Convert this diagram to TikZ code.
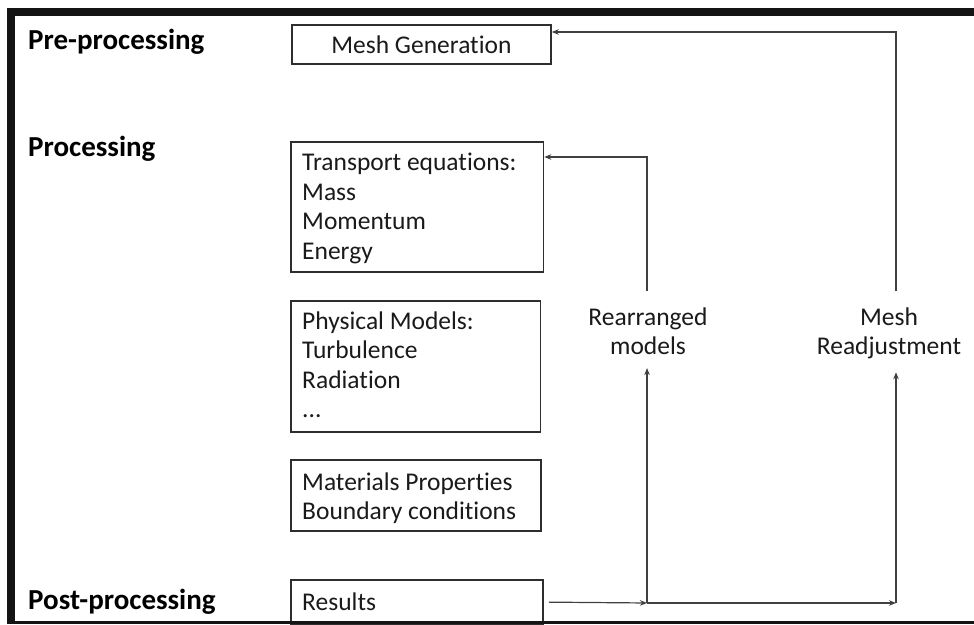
\documentclass[tikz,border=0pt]{standalone}
\usepackage{fontspec}
\setmainfont{Carlito}[RawFeature={-liga;-clig}]
\usetikzlibrary{arrows.meta,calc}
\definecolor{frame}{HTML}{141414}
\definecolor{boxline}{HTML}{2E2E2E}
\definecolor{conn}{HTML}{404040}
\definecolor{ink}{HTML}{1A1A1A}
\tikzset{
  box/.style={draw=boxline, line width=1.8pt, rectangle, inner sep=0pt, anchor=south west},
  boxfont/.style={font=\fontsize{25.5}{29.5}\selectfont, text=ink},
  boxtext/.style={boxfont, inner sep=0pt, align=left, anchor=north west},
  sidetext/.style={boxfont, inner xsep=0pt, inner ysep=13pt, align=center, anchor=north},
  stage/.style={font=\fontsize{29}{33}\selectfont\bfseries, text=black, inner sep=0pt, anchor=base west},
  arr/.style={draw=conn, line width=1.2pt, -{Stealth[length=7pt,width=5.5pt]}},
}
\begin{document}
\begin{tikzpicture}[x=1pt,y=1pt]
\useasboundingbox (0,0) rectangle (974,624);
\fill[white] (0,0) rectangle (974,624);

% boxes
\node[box, minimum width=259pt, minimum height=39pt] (mg) at (291,559) {};
\node[boxfont, inner sep=0pt] (mgt) at (mg.center) {Mesh Generation};
\node[box, minimum width=252.5pt, minimum height=130.3pt] (tr) at (290,351) {};
\node[boxtext] (trt) at (302,473.95) {\strut Transport equations:\\Mass\\Momentum\\Energy};
\node[box, minimum width=249.5pt, minimum height=131pt] (pm) at (290,191.3) {};
\node[boxtext] (pmt) at (302,315.65) {\strut Physical Models:\\Turbulence\\Radiation\\...};
\node[box, minimum width=250pt, minimum height=71pt] (mat) at (290,92.3) {};
\node[boxtext] (matt) at (302,154.65) {\strut Materials Properties\\Boundary conditions};
\node[box, minimum width=252pt, minimum height=44pt] (res) at (290,-1) {};
\node[boxfont, inner sep=0pt, anchor=base west] (rest) at (302,14) {Results};

% stage labels
\node[stage] (pre) at (28,574) {Pre-processing};
\node[stage] (proc) at (28,467.3) {Processing};
\node[stage] (post) at (28,15) {Post-processing};

% side texts
\node[sidetext] (rm) at (648,332.65) {\strut Rearranged\\models};
\node[sidetext] (mr) at (889,332.65) {\strut Mesh\\Readjustment};

% connectors
\coordinate (j1) at (647,21);
\coordinate (j2) at (896,21);
\coordinate (c1) at (647,467);
\coordinate (c2) at (896,592);
\draw[arr, shorten <=5pt] (res.east) -- (j1);
\draw[arr] (j1) -- (j2);
\draw[arr] (j1) -- (j1 |- rm.south);
\draw[arr] (j2) -- (j2 |- mr.south);
\draw[arr] (j1 |- rm.north) -- (c1) -- (c1 -| tr.east);
\draw[arr] (j2 |- mr.north) -- (c2) -- (c2 -| mg.east);

% frame
\fill[frame] (7,608) rectangle (974,616);
\fill[frame] (7,0) rectangle (14.5,616);
\fill[frame] (7,0) rectangle (974,3);
\end{tikzpicture}
\end{document}
